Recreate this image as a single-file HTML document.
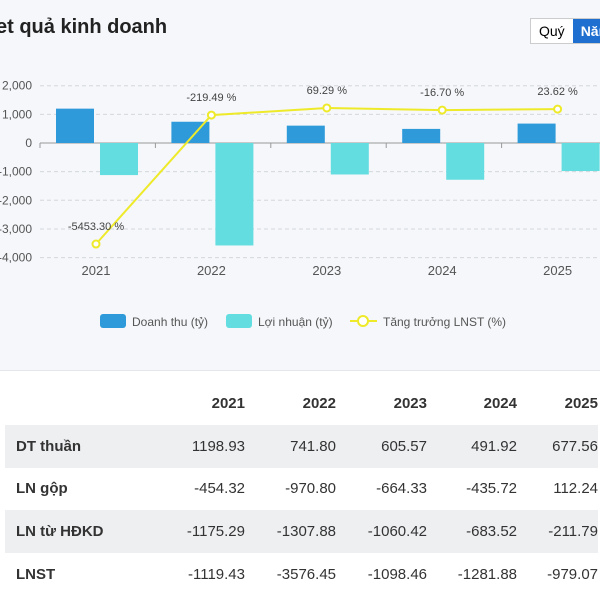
<!DOCTYPE html>
<html><head><meta charset="utf-8"><style>
body{margin:0;width:600px;height:600px;overflow:hidden;background:#fff;font-family:"Liberation Sans","Noto Sans CJK SC",sans-serif;position:relative}
#panel{position:absolute;left:0;top:0;width:600px;height:370px;background:#f5f7fa;border-bottom:1px solid #e3e6ea;overflow:hidden}
#title{position:absolute;left:-4px;top:16px;font-size:20px;font-weight:bold;color:#222}
#tog{position:absolute;left:530px;top:18px;height:24px;width:70px;overflow:hidden;display:flex;border:1px solid #ccc;border-right:none;background:#fff}
#tog span{font-size:14px;line-height:24px;padding:0 8px;white-space:nowrap}
table{position:absolute;left:5px;top:382px;border-collapse:collapse;font-size:15px;color:#333;table-layout:fixed;width:593px}
td{height:42.6px;padding:0;text-align:right;white-space:nowrap}
td:first-child{text-align:left;padding-left:11px;font-weight:bold}
tr.g td{background:#eeeff1}
tr.h td{font-weight:bold;height:43px}
</style></head><body>
<div id="panel">
<div id="title">et quả kinh doanh</div>
<div id="tog"><span>Quý</span><span style="background:#1f6fd1;color:#fff;font-weight:bold;padding-right:20px">Năm</span></div>
<svg id="chart" width="600" height="370" style="position:absolute;left:0;top:0"></svg>
</div>
<table>
<colgroup><col style="width:145px"><col style="width:95px"><col style="width:91px"><col style="width:91px"><col style="width:90px"><col style="width:81px"></colgroup>
<tr class="h"><td></td><td>2021</td><td>2022</td><td>2023</td><td>2024</td><td>2025</td></tr>
<tr class="g"><td>DT thuần</td><td>1198.93</td><td>741.80</td><td>605.57</td><td>491.92</td><td>677.56</td></tr>
<tr><td>LN gộp</td><td>-454.32</td><td>-970.80</td><td>-664.33</td><td>-435.72</td><td>112.24</td></tr>
<tr class="g"><td>LN từ HĐKD</td><td>-1175.29</td><td>-1307.88</td><td>-1060.42</td><td>-683.52</td><td>-211.79</td></tr>
<tr><td>LNST</td><td>-1119.43</td><td>-3576.45</td><td>-1098.46</td><td>-1281.88</td><td>-979.07</td></tr>
</table>
<script>
const years=["2021","2022","2023","2024","2025"];
const revenue=[1198.93,741.80,605.57,491.92,677.56];
const profit=[-1119.43,-3576.45,-1098.46,-1281.88,-979.07];
const growth=[-5453.30,-219.49,69.29,-16.70,23.62];
const growthLabels=["-5453.30 %","-219.49 %","69.29 %","-16.70 %","23.62 %"];
const yTicks=[2000,1000,0,-1000,-2000,-3000,-4000];
const yTickLabels=["2,000","1,000","0","-1,000","-2,000","-3,000","-4,000"];
const NS="http://www.w3.org/2000/svg";
const svg=document.getElementById('chart');
function y(v){return 143-v*0.02865;}
function yR(v){return 109.7-v*0.02463;}
function x(i){return 96+i*115.4;}
function mk(t,a,p){const e=document.createElementNS(NS,t);for(const k in a)e.setAttribute(k,a[k]);(p||svg).appendChild(e);return e;}
yTicks.forEach((t,i)=>{
 const g=mk('line',{x1:40,x2:600,y1:y(t),y2:y(t),stroke:t===0?'#999':'#d4d7dc','stroke-dasharray':t===0?'':'4,3','stroke-width':1});
 
 
 const l=mk('text',{x:32,y:y(t)+4,'text-anchor':'end','font-size':12,fill:'#555'});
 l.textContent=yTickLabels[i];
 
 
});
years.forEach((yr,i)=>{
 mk('line',{x1:x(i)-56,x2:x(i)-56,y1:143,y2:148,stroke:'#999'});
 const b=mk('rect',{x:x(i)-40,y:y(Math.max(revenue[i],0)),width:38,height:Math.abs(y(revenue[i])-y(0)),fill:'#2e9ad9'});
 
 
 const c=mk('rect',{x:x(i)+4,y:y(Math.max(profit[i],0)),width:38,height:Math.abs(y(profit[i])-y(0)),fill:'#63dde0'});
 
 
 const t=mk('text',{x:x(i),y:275,'text-anchor':'middle','font-size':13,fill:'#555'});
 t.textContent=yr;
 
 
});
const pl=mk('polyline',{points:growth.map((v,i)=>x(i)+','+yR(v)).join(' '),fill:'none',stroke:'#eeea2a','stroke-width':2});


growth.forEach((v,i)=>{
 const p=mk('circle',{cx:x(i),cy:yR(v),r:3.5,fill:'#fff',stroke:'#eeea2a','stroke-width':2});
 
 
 const t=mk('text',{x:x(i),y:yR(v)-14,'text-anchor':'middle','font-size':11,fill:'#444'});
 t.textContent=growthLabels[i];
 
 
});
const lg=mk('g',{});


mk('rect',{x:100,y:314,width:26,height:14,rx:3,fill:'#2e9ad9'},lg);
mk('text',{x:132,y:326,'font-size':12,fill:'#555'},lg).textContent='Doanh thu (tỷ)';
mk('rect',{x:226,y:314,width:26,height:14,rx:3,fill:'#63dde0'},lg);
mk('text',{x:258,y:326,'font-size':12,fill:'#555'},lg).textContent='Lợi nhuận (tỷ)';
mk('line',{x1:350,x2:377,y1:321,y2:321,stroke:'#eeea2a','stroke-width':2},lg);
mk('circle',{cx:363,cy:321,r:5,fill:'#fff',stroke:'#eeea2a','stroke-width':2},lg);
mk('text',{x:383,y:326,'font-size':12,fill:'#555'},lg).textContent='Tăng trưởng LNST (%)';
</script>
</body></html>
